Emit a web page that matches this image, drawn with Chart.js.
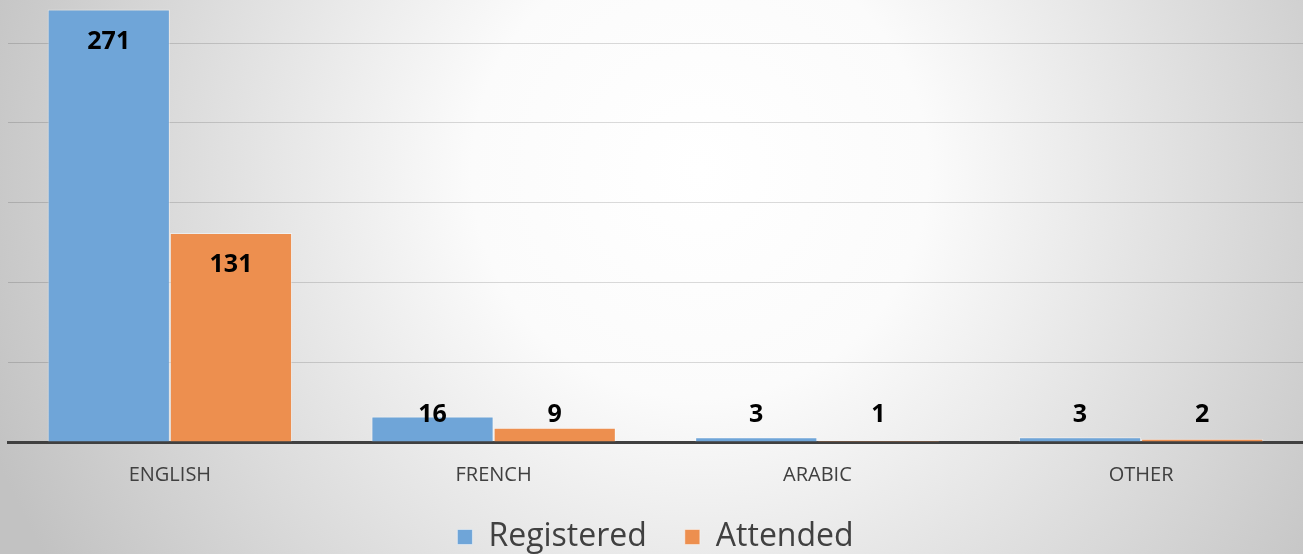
<!DOCTYPE html>
<html lang="en">
<head>
    <meta charset="UTF-8">
    <title>Registered vs Attended</title>
    <script src="https://cdn.jsdelivr.net/npm/chart.js"></script>
    <style>
        html, body {
            margin: 0;
            padding: 0;
            background: #ffffff;
        }
        .wrap {
            width: 1303px;
            height: 554px;
            position: relative;
        }
    </style>
</head>
<body>
    <div class="wrap">
        <canvas id="grafico"></canvas>
    </div>

    <script>
        // dados
        const categorias = ["ENGLISH", "FRENCH", "ARABIC", "OTHER"];
        const registados = [271, 16, 3, 3];
        const presentes = [131, 9, 1, 2];
        const nomesSeries = ["Registered", "Attended"];
        const passoGrelha = 50;

        // fundo com gradiente radial
        const fundo = {
            id: 'fundo',
            beforeDraw(chart) {
                const ctx = chart.ctx;
                const g = ctx.createRadialGradient(700, 170, 0, 700, 170, 760);
                g.addColorStop(0, '#ffffff');
                g.addColorStop(0.3, '#fbfbfb');
                g.addColorStop(1, '#c2c2c2');
                ctx.save();
                ctx.fillStyle = g;
                ctx.fillRect(0, 0, chart.width, chart.height);
                ctx.restore();
            }
        };

        // rótulos de valor (dentro do topo, ou logo acima da base se a barra for baixa)
        const rotulos = {
            id: 'rotulos',
            afterDraw(chart) {
                const ctx = chart.ctx;
                ctx.save();
                ctx.font = 'bold 25px "Open Sans"';
                ctx.fillStyle = '#000000';
                ctx.textAlign = 'center';
                ctx.textBaseline = 'middle';
                chart.data.datasets.forEach((ds, i) => {
                    chart.getDatasetMeta(i).data.forEach((bar, j) => {
                        const y = Math.min(bar.y + 32, bar.base - 27);
                        ctx.fillText(ds.data[j], bar.x, y);
                    });
                });
                ctx.restore();
            }
        };

        const ctx = document.getElementById('grafico').getContext('2d');
        new Chart(ctx, {
            type: 'bar',
            data: {
                labels: categorias,
                datasets: [
                    { label: nomesSeries[0], data: registados, backgroundColor: '#6FA5D8', borderColor: 'rgba(255,255,255,0.45)', borderWidth: 1 },
                    { label: nomesSeries[1], data: presentes, backgroundColor: '#ED8F4F', borderColor: 'rgba(255,255,255,0.45)', borderWidth: 1 }
                ]
            },
            options: {
                responsive: true,
                maintainAspectRatio: false,
                animation: false,
                layout: { padding: { left: 8, right: 0, top: 0, bottom: -9 } },
                datasets: { bar: { categoryPercentage: 0.755, barPercentage: 1 } },
                plugins: {
                    tooltip: { enabled: false },
                    legend: {
                        position: 'bottom',
                        labels: {
                            boxWidth: 15,
                            boxHeight: 15,
                            padding: 38,
                            color: '#404040',
                            font: { family: '"Open Sans"', size: 32 }
                        }
                    }
                },
                scales: {
                    x: {
                        z: 1,
                        grid: { display: false, drawTicks: false },
                        border: { display: true, color: '#404040', width: 3 },
                        ticks: {
                            color: '#404040',
                            padding: 28,
                            font: { family: '"Open Sans"', size: 20, lineHeight: '10px' }
                        },
                        afterFit(scale) {
                            scale.height = 41;
                        }
                    },
                    y: {
                        z: 1,
                        min: 0,
                        max: 277,
                        border: { display: false },
                        grid: { color: 'rgba(0,0,0,0.14)', lineWidth: 1, drawTicks: false },
                        ticks: { display: false, stepSize: passoGrelha },
                        afterBuildTicks(scale) {
                            scale.ticks = scale.ticks.filter(t => t.value % passoGrelha === 0);
                        }
                    }
                }
            },
            plugins: [fundo, rotulos]
        });
    </script>
</body>
</html>
